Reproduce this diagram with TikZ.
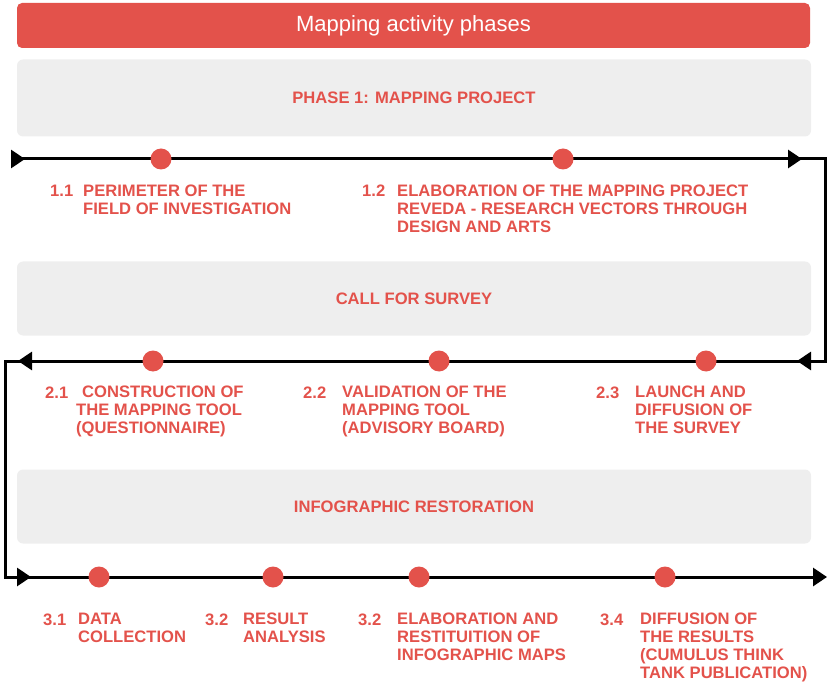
\documentclass[tikz,border=0pt]{standalone}
\usepackage{fontspec}
\setmainfont{Liberation Sans}
\usetikzlibrary{arrows.meta,decorations.markings}
\definecolor{mapred}{HTML}{E3524B}
\definecolor{mapgrey}{HTML}{EEEEEE}
\tikzset{titlebar/.style={fill=mapred,rounded corners=5pt,text=white,
                          minimum width=793pt,minimum height=45pt,
                          font=\fontsize{22}{27}\selectfont}}
\tikzset{phase/.style={fill=mapgrey,rounded corners=6pt,text=mapred,
                       minimum width=794pt,minimum height=74pt,
                       font=\fontsize{16.6}{18}\selectfont\bfseries}}
\tikzset{dot/.style={circle,fill=mapred,minimum size=21pt,inner sep=0pt}}
\tikzset{num/.style={text=mapred,inner sep=0pt,anchor=base west,
                     font=\fontsize{16.6}{18}\selectfont\bfseries}}
\tikzset{desc/.style={num,align=left,anchor=north west}}
\tikzset{>={Triangle[length=14pt,width=18pt]}}
\begin{document}
\begin{tikzpicture}[x=1pt,y=-1pt]
    \useasboundingbox (0,0) rectangle (829,684);
    % Title and phase bars
    \node[titlebar] (title) at (413.5,25.5) {Mapping activity phases};
    \node[phase, minimum height=77pt] (ph1) at (414,98) {PHASE 1: MAPPING PROJECT};
    \node[phase] (ph2) at (414,298.5) {CALL FOR SURVEY};
    \node[phase] (ph3) at (414,506.5) {INFOGRAPHIC RESTORATION};
    % Corners of the time line
    \coordinate (start) at (12,159);
    \coordinate (c1) at (825,159);
    \coordinate (c2) at (825,361);
    \coordinate (c3) at (5,361);
    \coordinate (c4) at (5,577);
    \coordinate (end) at (827,577);
    \draw[line width=3pt,->,
          postaction={decorate,decoration={markings,
            mark=at position 13pt with {\arrow{>}},
            mark=at position 790pt with {\arrow{>}},
            mark=at position 1043pt with {\arrow{>}},
            mark=at position 1822pt with {\arrow{>}},
            mark=at position 2077pt with {\arrow{>}}}}]
        (start) -- (c1) -- (c2) -- (c3) -- (c4) -- (end);
    % Dots on the time line
    \foreach \x [count=\i] in {161,563}{%
        \node[dot] (d1\i) at (\x,159) {};
      }
    \foreach \x [count=\i] in {153,439,706}{%
        \node[dot] (d2\i) at (\x,361) {};
      }
    \foreach \x [count=\i] in {99,273,419,665}{%
        \node[dot] (d3\i) at (\x,577) {};
      }
    % Step labels, row 1
    \node[num] (n11) at (50,197) {1.1};
    \node[desc] (t11) at (83,185) {PERIMETER OF THE\\FIELD OF INVESTIGATION};
    \node[num] (n12) at (362,197) {1.2};
    \node[desc] (t12) at (397,185) {ELABORATION OF THE MAPPING PROJECT\\REVEDA - RESEARCH VECTORS THROUGH\\DESIGN AND ARTS};
    % Step labels, row 2
    \node[num] (n21) at (45,398) {2.1};
    \node[desc] (t21) at (76,386) {\hspace*{6pt}CONSTRUCTION OF\\THE MAPPING TOOL\\(QUESTIONNAIRE)};
    \node[num] (n22) at (303,398) {2.2};
    \node[desc] (t22) at (342,386) {VALIDATION OF THE\\MAPPING TOOL\\(ADVISORY BOARD)};
    \node[num] (n23) at (596,398) {2.3};
    \node[desc] (t23) at (635,386) {LAUNCH AND\\DIFFUSION OF\\THE SURVEY};
    % Step labels, row 3
    \node[num] (n31) at (43,625) {3.1};
    \node[desc] (t31) at (78,613) {DATA\\COLLECTION};
    \node[num] (n32) at (205,625) {3.2};
    \node[desc] (t32) at (243,613) {RESULT\\ANALYSIS};
    \node[num] (n33) at (358,625) {3.2};
    \node[desc] (t33) at (397,613) {ELABORATION AND\\RESTITUITION OF\\INFOGRAPHIC MAPS};
    \node[num] (n34) at (600,625) {3.4};
    \node[desc] (t34) at (640,613) {DIFFUSION OF\\THE RESULTS\\(CUMULUS THINK\\TANK PUBLICATION)};
\end{tikzpicture}
\end{document}
